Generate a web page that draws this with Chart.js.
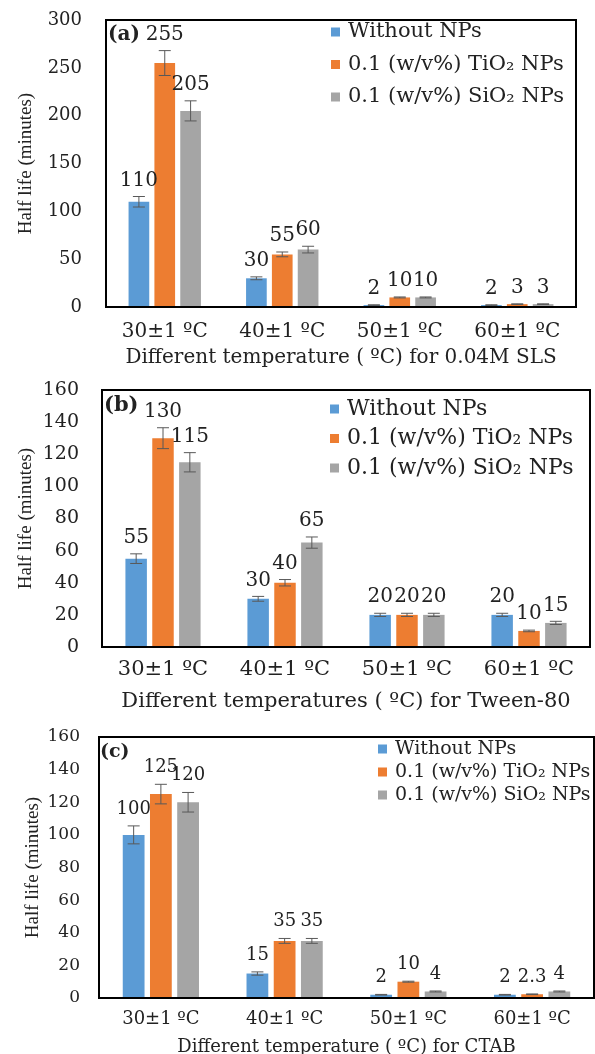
<!DOCTYPE html>
<html>
<head>
<meta charset="utf-8">
<script src="https://cdn.jsdelivr.net/npm/chart.js@4"></script>
<style>
  html, body { margin: 0; padding: 0; background: #fff; }
  body { width: 595px; height: 1054px; overflow: hidden; position: relative; }
  canvas { position: absolute; left: 0; }
</style>
</head>
<body>
<canvas id="chartA" width="595" height="372" style="top:0px"></canvas>
<canvas id="chartB" width="595" height="343" style="top:372px"></canvas>
<canvas id="chartC" width="595" height="347" style="top:715px"></canvas>
<script>
const categories = ['30±1 ºC', '40±1 ºC', '50±1 ºC', '60±1 ºC']
const seriesNames = ['Without NPs', '0.1 (w/v%) TiO₂ NPs', '0.1 (w/v%) SiO₂ NPs']

// (a) 0.04M SLS
const slsWithout = [110, 30, 2, 2]
const slsTio2 = [255, 55, 10, 3]
const slsSio2 = [205, 60, 10, 3]
const slsErrWithout = [5.5, 1.5, 0.3, 0.3]
const slsErrTio2 = [13, 2.5, 0.5, 0.3]
const slsErrSio2 = [10.5, 3.5, 0.5, 0.3]

// (b) Tween-80
const tweenWithout = [55, 30, 20, 20]
const tweenTio2 = [130, 40, 20, 10]
const tweenSio2 = [115, 65, 20, 15]
const tweenErrWithout = [3, 1.5, 1, 1]
const tweenErrTio2 = [6.5, 2, 1, 0.5]
const tweenErrSio2 = [6, 3.5, 1, 1]

// (c) CTAB
const ctabWithout = [100, 15, 2, 2]
const ctabTio2 = [125, 35, 10, 2.3]
const ctabSio2 = [120, 35, 4, 4]
const ctabErrWithout = [5.5, 1, 0.2, 0.2]
const ctabErrTio2 = [6, 1.5, 0.3, 0.2]
const ctabErrSio2 = [6, 1.5, 0.3, 0.3]

const COLORS = ['#5B9BD5', '#ED7D31', '#A5A5A5']
const TEXT = '#222'
const FONT = 'DejaVu Serif'
const FONT_NARROW = 'Liberation Serif'

// draws error bars, value labels, frame, legend and panel letter
const decorPlugin = {
    id: 'decor',
    afterDatasetsDraw(chart) {
        const ctx = chart.ctx
        const y = chart.scales.y
        const cfg = chart.options.plugins.decor
        ctx.save()
        chart.data.datasets.forEach((ds, di) => {
            const meta = chart.getDatasetMeta(di)
            meta.data.forEach((bar, i) => {
                const v = ds.data[i]
                const e = ds.errors[i]
                const yTop = y.getPixelForValue(v + e)
                const yBot = y.getPixelForValue(v - e)
                ctx.strokeStyle = '#595959'
                ctx.lineWidth = 1
                ctx.beginPath()
                ctx.moveTo(bar.x, yTop)
                ctx.lineTo(bar.x, yBot)
                ctx.moveTo(bar.x - 6, yTop)
                ctx.lineTo(bar.x + 6, yTop)
                ctx.moveTo(bar.x - 6, yBot)
                ctx.lineTo(bar.x + 6, yBot)
                ctx.stroke()

                ctx.fillStyle = TEXT
                ctx.font = cfg.labelFont + 'px "' + FONT + '"'
                ctx.textAlign = 'center'
                ctx.textBaseline = 'middle'
                ctx.fillText(String(v), bar.x, yTop - cfg.labelGap)
            })
        })
        ctx.restore()
    },
    afterDraw(chart) {
        const ctx = chart.ctx
        const a = chart.chartArea
        const cfg = chart.options.plugins.decor
        ctx.save()
        ctx.strokeStyle = '#000'
        ctx.lineWidth = 2
        ctx.strokeRect(a.left, a.top, a.right - a.left, a.bottom - a.top)

        ctx.fillStyle = TEXT
        ctx.font = 'bold ' + cfg.letterFont + 'px "' + FONT + '"'
        ctx.textAlign = 'left'
        ctx.textBaseline = 'middle'
        ctx.fillText(cfg.letter, cfg.letterX, cfg.letterY)

        ctx.font = cfg.legendFont + 'px "' + FONT + '"'
        chart.data.datasets.forEach((ds, i) => {
            const ly = cfg.legendY + i * cfg.legendGap
            ctx.fillStyle = ds.backgroundColor
            ctx.fillRect(cfg.legendX, ly - 4.5, 9, 9)
            ctx.fillStyle = TEXT
            ctx.fillText(ds.label, cfg.legendX + 17, ly)
        })
        ctx.restore()
    }
}

function renderPanel(id, values, errors, yMax, yStep, xTitle, geo) {
    const canvas = document.getElementById(id)
    const datasets = values.map((vals, i) => ({
        label: seriesNames[i],
        data: vals,
        errors: errors[i],
        backgroundColor: COLORS[i],
        categoryPercentage: 0.66,
        barPercentage: 0.8
    }))

    return new Chart(canvas.getContext('2d'), {
        type: 'bar',
        data: { labels: categories, datasets },
        plugins: [decorPlugin],
        options: {
            responsive: false,
            animation: false,
            layout: {
                padding: { left: 0, right: 595 - geo.right, top: geo.top, bottom: 0 }
            },
            plugins: {
                legend: { display: false },
                tooltip: { enabled: false },
                decor: geo.decor
            },
            scales: {
                x: {
                    grid: { display: false, drawTicks: false },
                    border: { display: false },
                    ticks: { color: TEXT, font: { family: FONT, size: geo.xFont }, padding: geo.xTickPad, maxRotation: 0 },
                    title: {
                        display: true, text: xTitle, color: TEXT,
                        font: { family: FONT, size: geo.titleFont },
                        padding: { top: geo.xTitlePad, bottom: geo.xTitlePad }
                    },
                    afterFit: s => {
                        s.height = canvas.height - geo.bottom
                        s.paddingLeft = 0
                        s.paddingRight = 0
                    }
                },
                y: {
                    min: 0,
                    max: yMax,
                    grid: { display: false, drawTicks: false },
                    border: { display: false },
                    ticks: { stepSize: yStep, color: TEXT, font: { family: FONT, size: geo.yFont }, padding: geo.yTickPad },
                    title: {
                        display: true, text: 'Half life (minutes)', color: TEXT,
                        font: { family: FONT_NARROW, size: 19 },
                        padding: { top: geo.yTitlePad, bottom: 0 }
                    },
                    afterFit: s => {
                        s.width = geo.left
                        s.paddingTop = 0
                        s.paddingBottom = 0
                    }
                }
            }
        }
    })
}

renderPanel('chartA',
    [slsWithout, slsTio2, slsSio2],
    [slsErrWithout, slsErrTio2, slsErrSio2],
    300, 50, 'Different temperature ( ºC) for 0.04M SLS',
    {
        left: 106, right: 576, top: 20, bottom: 307,
        xFont: 20, yFont: 18, titleFont: 20,
        yTickPad: 24, xTickPad: 13, xTitlePad: 2, yTitlePad: 15,
        decor: { letter: '(a)', letterX: 108, letterY: 35, letterFont: 20, legendX: 331, legendY: 32, legendGap: 32.5, legendFont: 21, labelFont: 20, labelGap: 16 }
    })

renderPanel('chartB',
    [tweenWithout, tweenTio2, tweenSio2],
    [tweenErrWithout, tweenErrTio2, tweenErrSio2],
    160, 20, 'Different temperatures ( ºC) for Tween-80',
    {
        left: 102, right: 590, top: 18, bottom: 275,
        xFont: 21, yFont: 19, titleFont: 21,
        yTickPad: 23, xTickPad: 10, xTitlePad: 1, yTitlePad: 15,
        decor: { letter: '(b)', letterX: 104, letterY: 34, letterFont: 21, legendX: 330, legendY: 37, legendGap: 29.5, legendFont: 22, labelFont: 20, labelGap: 16 }
    })

renderPanel('chartC',
    [ctabWithout, ctabTio2, ctabSio2],
    [ctabErrWithout, ctabErrTio2, ctabErrSio2],
    160, 20, 'Different temperature ( ºC) for CTAB',
    {
        left: 99, right: 594, top: 22, bottom: 283,
        xFont: 18, yFont: 17, titleFont: 18,
        yTickPad: 19, xTickPad: 11, xTitlePad: 4, yTitlePad: 22,
        decor: { letter: '(c)', letterX: 100, letterY: 37, letterFont: 19, legendX: 378, legendY: 34, legendGap: 23, legendFont: 19, labelFont: 18, labelGap: 17 }
    })
</script>
</body>
</html>
